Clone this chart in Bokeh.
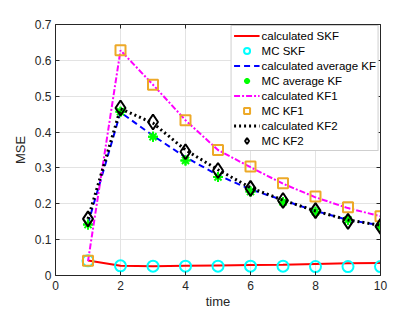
from bokeh.plotting import figure
from bokeh.models import FixedTicker, LinearAxis, Range1d, Legend, LegendItem
from bokeh.embed import file_html
from bokeh.resources import INLINE

time = [1, 2, 3, 4, 5, 6, 7, 8, 9, 10]
calc_skf = [0.042, 0.027, 0.026, 0.027, 0.028, 0.029, 0.030, 0.032, 0.034, 0.035]
mc_skf = [0.041, 0.027, 0.026, 0.026, 0.026, 0.026, 0.026, 0.025, 0.025, 0.025]
calc_avg = [0.145, 0.455, 0.39, 0.33, 0.28, 0.24, 0.21, 0.18, 0.155, 0.14]
mc_avg = [0.142, 0.457, 0.387, 0.321, 0.275, 0.234, 0.205, 0.178, 0.155, 0.137]
calc_kf1 = [0.040, 0.628, 0.532, 0.433, 0.35, 0.302, 0.256, 0.218, 0.188, 0.165]
mc_kf1 = [0.041, 0.628, 0.532, 0.433, 0.35, 0.304, 0.257, 0.220, 0.190, 0.165]
calc_kf2 = [0.158, 0.465, 0.425, 0.35, 0.295, 0.245, 0.21, 0.18, 0.155, 0.14]
mc_kf2 = [0.158, 0.467, 0.428, 0.345, 0.293, 0.243, 0.209, 0.181, 0.151, 0.137]

x_ticks = [0, 2, 4, 6, 8, 10]
y_ticks = [0, 0.1, 0.2, 0.3, 0.4, 0.5, 0.6, 0.7]

FONT = "Liberation Sans"
AX = "#262626"

p = figure(width=404, height=311, output_backend="svg", toolbar_location=None,
           x_range=Range1d(0, 10), y_range=Range1d(0, 0.7),
           min_border_left=55, min_border_right=24, min_border_top=24, min_border_bottom=33)
p.outline_line_color = None
p.background_fill_color = "white"
p.border_fill_color = "white"

def style_axis(ax, labels=True):
    ax.axis_line_color = AX
    ax.major_tick_line_color = AX
    ax.major_tick_in = 4
    ax.major_tick_out = 0
    ax.minor_tick_line_color = None
    ax.major_label_text_font = FONT
    ax.major_label_text_color = AX
    ax.major_label_text_font_size = "12px"
    ax.axis_label_text_font = FONT
    ax.axis_label_text_font_style = "normal"
    ax.axis_label_text_color = AX
    ax.axis_label_text_font_size = "13px"
    if not labels:
        ax.major_label_text_color = None
        ax.major_label_text_font_size = "1px"
        ax.major_label_standoff = 0

p.xaxis.ticker = FixedTicker(ticks=x_ticks)
p.yaxis.ticker = FixedTicker(ticks=y_ticks)
p.xaxis.axis_label = "time"
p.yaxis.axis_label = "MSE"
style_axis(p.xaxis[0])
style_axis(p.yaxis[0])
p.xaxis.major_label_standoff = 5
p.yaxis.major_label_standoff = 4
p.xaxis.axis_label_standoff = 1
p.yaxis.axis_label_standoff = 4

top = LinearAxis(ticker=FixedTicker(ticks=x_ticks))
right = LinearAxis(ticker=FixedTicker(ticks=y_ticks))
style_axis(top, False)
style_axis(right, False)
p.add_layout(top, "above")
p.add_layout(right, "right")

p.xgrid.ticker = FixedTicker(ticks=x_ticks)
p.ygrid.ticker = FixedTicker(ticks=y_ticks)
p.grid.grid_line_color = "#E3E3E3"
p.grid.grid_line_width = 1

r1 = p.line(time, calc_skf, line_color="#FF0000", line_width=2)
r2 = p.scatter(time, mc_skf, marker="circle", size=11, fill_color=None, line_color="#00FFFF", line_width=2)
r3 = p.line(time, calc_avg, line_color="#0000FF", line_width=2, line_dash="6 4")
r4 = p.scatter(time, mc_avg, marker="asterisk", size=10, line_color="#00FF00", line_width=2)
r4b = p.scatter(time, mc_avg, marker="cross", size=10, line_color="#00FF00", line_width=2)
r5 = p.line(time, calc_kf1, line_color="#FF00FF", line_width=2, line_dash="6 2 2 2")
r6 = p.scatter(time, mc_kf1, marker="square", size=10, fill_color=None, line_color="#EDA928", line_width=2)
r7 = p.line(time, calc_kf2, line_color="#000000", line_width=3, line_dash="2 3")
r8 = p.scatter(time, mc_kf2, marker="diamond", size=15, fill_color=None, line_color="#000000", line_width=2)

legend = Legend(items=[
    LegendItem(label="calculated SKF", renderers=[r1]),
    LegendItem(label="MC SKF", renderers=[r2]),
    LegendItem(label="calculated average KF", renderers=[r3]),
    LegendItem(label="MC average KF", renderers=[r4, r4b]),
    LegendItem(label="calculated KF1", renderers=[r5]),
    LegendItem(label="MC KF1", renderers=[r6]),
    LegendItem(label="calculated KF2", renderers=[r7]),
    LegendItem(label="MC KF2", renderers=[r8]),
], location="top_right")
legend.margin = 1
legend.padding = 2
legend.spacing = 0
legend.glyph_width = 26
legend.glyph_height = 15
legend.label_height = 15
legend.label_standoff = 2
legend.label_text_font = FONT
legend.label_text_font_size = "11.5px"
legend.label_text_color = "#000000"
legend.border_line_color = "#A0A0A0"
legend.border_line_width = 1
legend.background_fill_alpha = 1
p.add_layout(legend, "center")

open("out.html", "w").write(file_html(p, INLINE))
